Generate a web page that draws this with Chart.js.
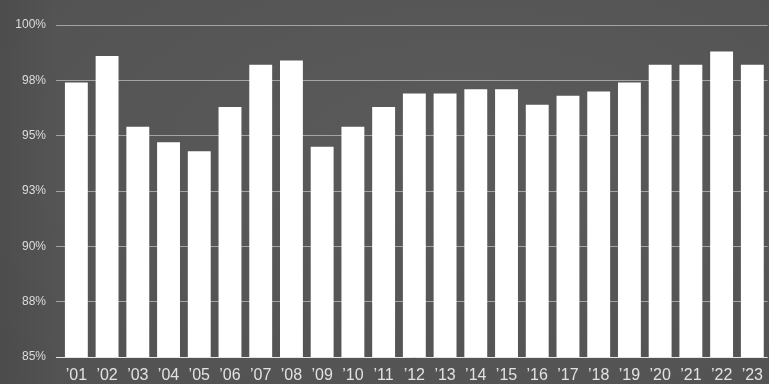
<!DOCTYPE html>
<html>
<head>
<meta charset="utf-8">
<script src="https://cdn.jsdelivr.net/npm/chart.js@4"></script>
<style>
  html, body {
    margin: 0;
    padding: 0;
    width: 769px;
    height: 384px;
    overflow: hidden;
    background: #555555;
    background-image:
        linear-gradient(90deg, rgba(0,0,0,0.08) 0px, rgba(0,0,0,0) 60px),
        radial-gradient(ellipse at 60% 40%, rgba(255,255,255,0.03), rgba(0,0,0,0.04));
  }
  #wrap {
    position: absolute;
    left: 0;
    top: 0;
    width: 772px;
    height: 384px;
  }
</style>
</head>
<body>
<div id="wrap"><canvas id="chart"></canvas></div>
<script>
// Years on the x axis
const years = ["’01", "’02", "’03", "’04", "’05", "’06", "’07", "’08", "’09", "’10", "’11", "’12",
               "’13", "’14", "’15", "’16", "’17", "’18", "’19", "’20", "’21", "’22", "’23"];

// Percentages
const values = [97.4, 98.6, 95.4, 94.7, 94.3, 96.3, 98.2, 98.4, 94.5, 95.4, 96.3, 96.9,
                96.9, 97.1, 97.1, 96.4, 96.8, 97.0, 97.4, 98.2, 98.2, 98.8, 98.2];

// Y axis range and step
const yMin = 85;
const yMax = 100;
const yStep = 2.5;

const ctx = document.getElementById('chart').getContext('2d');

new Chart(ctx, {
    type: 'bar',
    data: {
        labels: years,
        datasets: [{
            data: values,
            backgroundColor: '#ffffff',
            borderWidth: 0,
            categoryPercentage: 1.0,
            barPercentage: 0.745
        }]
    },
    options: {
        responsive: true,
        maintainAspectRatio: false,
        animation: false,
        layout: {
            padding: { top: 25, left: 0, right: 0, bottom: 0 }
        },
        plugins: {
            legend: { display: false },
            tooltip: { enabled: false }
        },
        scales: {
            x: {
                grid: { display: false, drawTicks: false },
                border: { display: false },
                ticks: {
                    color: '#e2e2e2',
                    padding: 9,
                    maxRotation: 0,
                    autoSkip: false,
                    font: { family: '"Liberation Sans", Arial, sans-serif', size: 16 }
                },
                afterFit: (scale) => { scale.height = 27; }
            },
            y: {
                min: yMin,
                max: yMax,
                border: { display: false },
                grid: {
                    color: (c) => c.index === 0 ? '#e6e6e6' : 'rgba(190,190,190,0.75)',
                    lineWidth: 1,
                    drawTicks: true,
                    tickLength: 5
                },
                ticks: {
                    stepSize: yStep,
                    color: '#dcdcdc',
                    padding: 10,
                    font: { family: '"Liberation Sans", Arial, sans-serif', size: 12 },
                    callback: (v) => Math.round(v) + '%'
                },
                afterFit: (scale) => { scale.width = 61; }
            }
        }
    }
});
</script>
</body>
</html>
